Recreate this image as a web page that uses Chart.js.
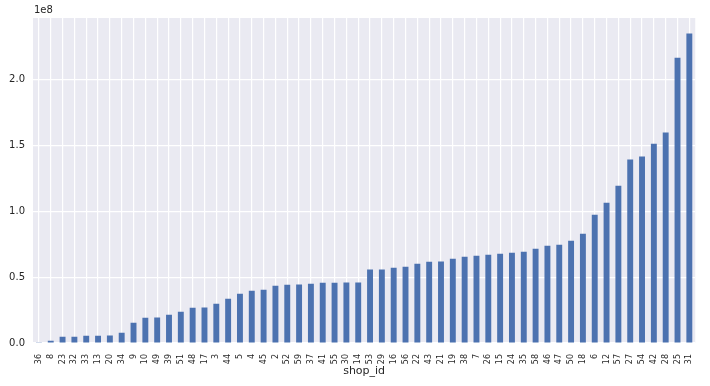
<!DOCTYPE html>
<html>
<head>
<meta charset="utf-8">
<script src="https://cdn.jsdelivr.net/npm/chart.js@4"></script>
<style>
  html, body { margin: 0; padding: 0; background: #fff; }
  #wrap { width: 710px; height: 386px; }
</style>
</head>
<body>
<div id="wrap"><canvas id="salesChart"></canvas></div>
<script>
// shop ids, sorted by total sales
const shopIds = ["36", "8", "23", "32", "33", "13", "20", "34", "9", "10", "49", "39", "51", "48", "17", "3",
  "44", "5", "4", "45", "2", "52", "59", "37", "41", "55", "30", "14", "53", "29", "16", "56", "22", "43",
  "21", "19", "38", "7", "26", "15", "24", "35", "58", "46", "47", "50", "18", "6", "12", "57", "27", "54",
  "42", "28", "25", "31"];

// total sales per shop (units of 1e8)
const salesE8 = [0.002, 0.018, 0.048, 0.048, 0.055, 0.055, 0.056, 0.078, 0.154, 0.192, 0.193, 0.215, 0.238,
  0.268, 0.269, 0.298, 0.336, 0.374, 0.397, 0.405, 0.435, 0.443, 0.444, 0.450, 0.458, 0.458, 0.459, 0.459,
  0.557, 0.558, 0.572, 0.579, 0.602, 0.617, 0.618, 0.640, 0.655, 0.663, 0.670, 0.678, 0.686, 0.693, 0.716,
  0.739, 0.746, 0.777, 0.830, 0.974, 1.065, 1.194, 1.392, 1.415, 1.513, 1.597, 2.166, 2.349];
const sales = salesE8.map((v) => v * 1e8);

const yTicks = [0, 0.5e8, 1.0e8, 1.5e8, 2.0e8];

const FONT = "'DejaVu Sans', sans-serif";

// darkgrid background + offset text "1e8"
const darkgrid = {
  id: "darkgrid",
  beforeDraw(chart) {
    const { ctx, chartArea } = chart;
    ctx.save();
    ctx.fillStyle = "#eaeaf2";
    ctx.fillRect(chartArea.left, chartArea.top, chartArea.right - chartArea.left, chartArea.bottom - chartArea.top);
    ctx.restore();
  },
  afterDraw(chart) {
    const { ctx, chartArea } = chart;
    ctx.save();
    ctx.fillStyle = "#262626";
    ctx.font = "10px " + FONT;
    ctx.textAlign = "left";
    ctx.textBaseline = "bottom";
    ctx.fillText("1e8", chartArea.left + 1, chartArea.top - 3);
    ctx.restore();
  },
};

const ctx = document.getElementById("salesChart").getContext("2d");
new Chart(ctx, {
  type: "bar",
  data: {
    labels: shopIds,
    datasets: [
      {
        label: "sales",
        data: sales,
        backgroundColor: "#4c72b0",
        borderWidth: 0,
        barPercentage: 0.5,
        categoryPercentage: 1.0,
      },
    ],
  },
  options: {
    responsive: true,
    maintainAspectRatio: false,
    animation: false,
    layout: { padding: { left: 0, right: 7, top: 18, bottom: 0 } },
    plugins: {
      legend: { display: false },
      tooltip: { enabled: false },
    },
    scales: {
      x: {
        grid: { color: "#ffffff", lineWidth: 1.2, offset: false, drawTicks: false },
        border: { display: false },
        ticks: {
          color: "#262626",
          font: { family: FONT, size: 8 },
          minRotation: 90,
          maxRotation: 90,
          autoSkip: false,
          padding: 11,
        },
        title: {
          display: true,
          text: "shop_id",
          color: "#262626",
          font: { family: FONT, size: 11 },
          padding: { top: 0, bottom: 8 },
        },
        afterFit(scale) { scale.height = 43; },
      },
      y: {
        min: 0,
        max: 2.467e8,
        grid: { color: "#ffffff", lineWidth: 1.2, drawTicks: false },
        border: { display: false },
        afterBuildTicks(scale) { scale.ticks = yTicks.map((v) => ({ value: v })); },
        ticks: {
          color: "#262626",
          font: { family: FONT, size: 10 },
          padding: 8,
          callback: (v) => (v / 1e8).toFixed(1),
        },
        afterFit(scale) { scale.width = 33; },
      },
    },
  },
  plugins: [darkgrid],
});
</script>
</body>
</html>
